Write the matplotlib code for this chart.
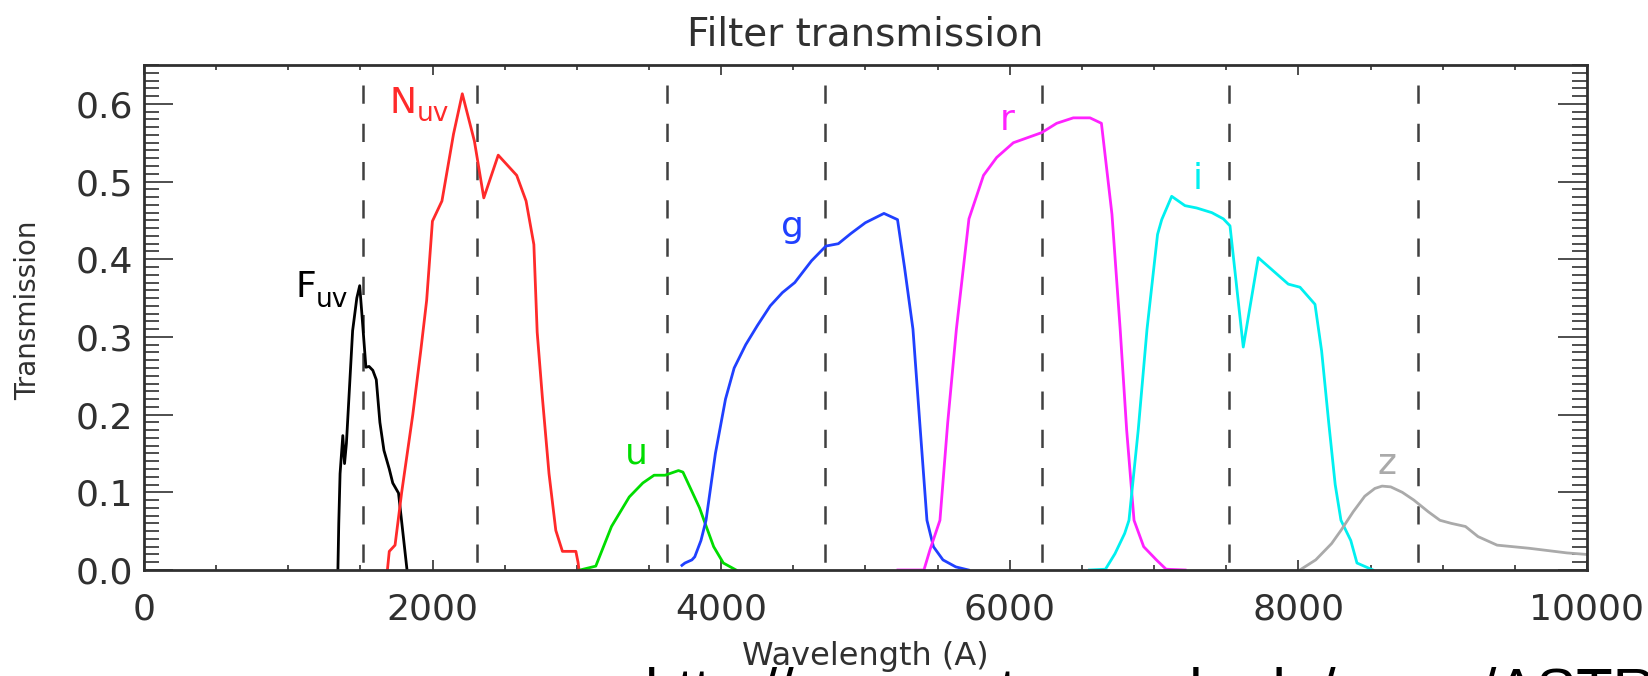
import matplotlib
matplotlib.use("Agg")
import matplotlib.pyplot as plt
from matplotlib.ticker import MultipleLocator, FormatStrFormatter

# filter curves (wavelength in A, transmission)
fuv_x = [1344, 1350, 1359, 1378, 1390, 1403, 1446, 1475, 1495, 1510, 1538, 1560, 1586, 1610, 1635, 1663, 1700, 1724, 1764, 1823]
fuv_y = [0.0, 0.06, 0.124, 0.173, 0.137, 0.163, 0.308, 0.35, 0.366, 0.33, 0.261, 0.262, 0.257, 0.245, 0.19, 0.154, 0.13, 0.112, 0.099, 0.0]

nuv_x = [1687, 1700, 1740, 1786, 1863, 1918, 1959, 1999, 2065, 2145, 2206, 2290, 2355, 2455, 2583, 2648, 2702, 2725, 2761, 2807, 2854, 2900, 2993, 3008, 3015]
nuv_y = [0.0, 0.024, 0.032, 0.1, 0.2, 0.282, 0.347, 0.449, 0.475, 0.561, 0.613, 0.552, 0.479, 0.534, 0.508, 0.475, 0.419, 0.306, 0.222, 0.124, 0.051, 0.024, 0.024, 0.01, 0.0]

u_x = [3022, 3131, 3240, 3363, 3457, 3535, 3611, 3704, 3735, 3800, 3850, 3881, 3948, 4015, 4103]
u_y = [0.0, 0.005, 0.056, 0.094, 0.112, 0.122, 0.122, 0.128, 0.126, 0.10, 0.08, 0.064, 0.030, 0.009, 0.0]

g_x = [3728, 3749, 3797, 3817, 3860, 3895, 3960, 4030, 4090, 4170, 4252, 4340, 4424, 4510, 4626, 4726, 4812, 4898, 4999, 5128, 5222, 5271, 5329, 5380, 5426, 5471, 5537, 5626, 5714]
g_y = [0.006, 0.009, 0.013, 0.017, 0.038, 0.064, 0.15, 0.22, 0.26, 0.29, 0.315, 0.34, 0.357, 0.37, 0.398, 0.417, 0.42, 0.433, 0.447, 0.459, 0.451, 0.389, 0.31, 0.18, 0.064, 0.03, 0.013, 0.004, 0.0]

r_x = [5225, 5405, 5447, 5516, 5570, 5630, 5717, 5818, 5909, 6025, 6221, 6325, 6440, 6556, 6635, 6708, 6765, 6810, 6861, 6928, 7016, 7083, 7215]
r_y = [0.0, 0.0, 0.026, 0.064, 0.19, 0.31, 0.452, 0.508, 0.531, 0.55, 0.563, 0.575, 0.582, 0.582, 0.575, 0.458, 0.31, 0.18, 0.064, 0.03, 0.013, 0.001, 0.0]

i_x = [6552, 6663, 6729, 6796, 6826, 6890, 6951, 7024, 7053, 7122, 7214, 7295, 7400, 7480, 7526, 7618, 7722, 7826, 7930, 8011, 8115, 8161, 8210, 8255, 8295, 8363, 8406, 8517]
i_y = [0.0, 0.001, 0.021, 0.047, 0.064, 0.18, 0.31, 0.432, 0.451, 0.481, 0.469, 0.466, 0.46, 0.452, 0.443, 0.287, 0.402, 0.385, 0.368, 0.364, 0.342, 0.282, 0.19, 0.11, 0.064, 0.038, 0.009, 0.0]

z_x = [8010, 8120, 8230, 8295, 8380, 8460, 8530, 8580, 8640, 8720, 8800, 8900, 8981, 9060, 9158, 9245, 9377, 9598, 9861, 10000]
z_y = [0.0, 0.013, 0.034, 0.051, 0.075, 0.095, 0.105, 0.108, 0.107, 0.1, 0.09, 0.075, 0.064, 0.06, 0.056, 0.043, 0.032, 0.028, 0.022, 0.02]

# effective wavelengths marked with dashed lines
eff_wave = [1520, 2306, 3622, 4719, 6221, 7521, 8829]

fg = '#303030'

fig = plt.figure(figsize=(16.49, 6.76), dpi=100)
ax = fig.add_axes([0.0873, 0.1568, 0.8751, 0.7470])

for xv in eff_wave:
    ax.plot([xv, xv], [0.65, 0.0], color='#404040', lw=1.8, ls=(7.3, (7.3, 8.0)))

ax.plot(fuv_x, fuv_y, color='black', lw=2)
ax.plot(nuv_x, nuv_y, color='#ff2a2a', lw=2)
ax.plot(u_x, u_y, color='#00dd00', lw=2)
ax.plot(g_x, g_y, color='#2040ff', lw=2)
ax.plot(r_x, r_y, color='#ff22ff', lw=2)
ax.plot(i_x, i_y, color='#00f0f0', lw=2)
ax.plot(z_x, z_y, color='#aaaaaa', lw=2)

# band names
ax.text(1123, 0.351, 'F', color='black', fontsize=26, ha='center', va='baseline')
ax.text(1303, 0.338, 'uv', color='black', fontsize=19, ha='center', va='baseline')
ax.text(1793, 0.588, 'N', color='#ff2a2a', fontsize=26, ha='center', va='baseline')
ax.text(2005, 0.578, 'uv', color='#ff2a2a', fontsize=19, ha='center', va='baseline')
ax.text(3410, 0.137, 'u', color='#00dd00', fontsize=26, ha='center', va='baseline')
ax.text(4497, 0.428, 'g', color='#2040ff', fontsize=26, ha='center', va='baseline')
ax.text(5984, 0.567, 'r', color='#ff22ff', fontsize=26, ha='center', va='baseline')
ax.text(7300, 0.490, 'i', color='#00f0f0', fontsize=26, ha='center', va='baseline')
ax.text(8614, 0.124, 'z', color='#aaaaaa', fontsize=26, ha='center', va='baseline')

ax.set_xlim(0, 10000)
ax.set_ylim(0, 0.65)
ax.xaxis.set_major_locator(MultipleLocator(2000))
ax.xaxis.set_minor_locator(MultipleLocator(500))
ax.yaxis.set_major_locator(MultipleLocator(0.1))
ax.yaxis.set_minor_locator(MultipleLocator(0.01))
ax.yaxis.set_major_formatter(FormatStrFormatter('%.1f'))

ax.tick_params(axis='x', which='major', direction='in', length=7, width=1.2, top=True, bottom=True,
               labelsize=26, pad=16, color=fg, labelcolor=fg)
ax.tick_params(axis='x', which='minor', direction='in', length=3.5, width=1.2, top=True, bottom=True, color=fg)
ax.tick_params(axis='y', which='major', direction='in', length=21, width=1.2, left=True, right=True,
               labelsize=26, pad=8, color=fg, labelcolor=fg)
ax.tick_params(axis='y', which='minor', direction='in', length=10.5, width=1.2, left=True, right=True, color=fg)
for s in ax.spines.values():
    s.set_linewidth(2)
    s.set_color(fg)

ax.set_title('Filter transmission', fontsize=28, pad=14, color=fg)
ax.set_xlabel('Wavelength (A)', fontsize=23, color=fg)
ax.xaxis.set_label_coords(0.5, -0.1406)
ax.set_ylabel('Transmission', fontsize=20, color=fg)
ax.yaxis.set_label_coords(-0.0707, 0.515)

# cropped caption of the source slide, only its top edge shows
fig.text(645 / 1649, -0.051, 'http://www.astro.umd.edu/~ssm/ASTR', fontsize=43,
         family=['Liberation Sans', 'DejaVu Sans'], color='black', ha='left', va='baseline')

fig.savefig('out.png', dpi=100)
